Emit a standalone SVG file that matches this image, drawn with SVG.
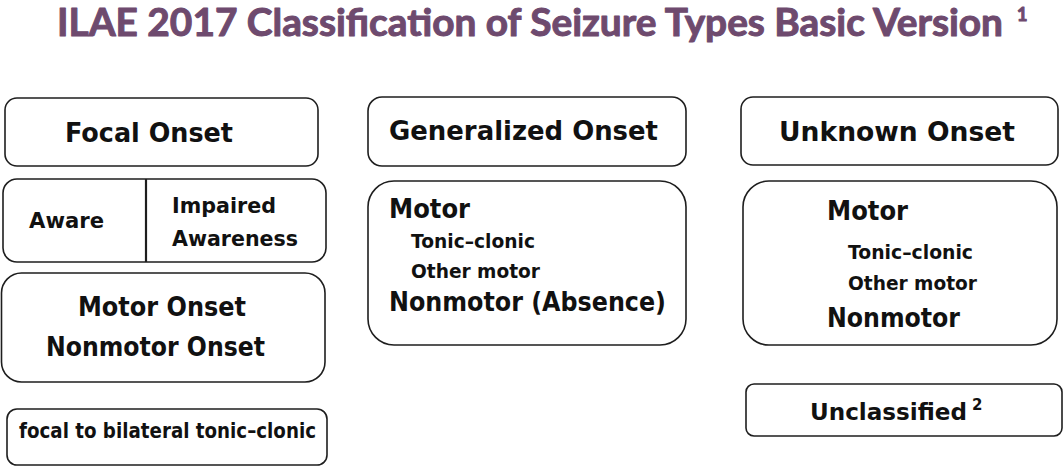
<svg xmlns="http://www.w3.org/2000/svg" width="1064" height="467" viewBox="0 0 1064 467">
<style>
.box{fill:#ffffff;stroke:#1e1e1e;stroke-width:1.6}
.t{font-family:"DejaVu Sans","Liberation Sans",sans-serif;font-weight:bold;fill:#111111}
.h{font-size:27px}
.m{font-size:26px}
.s{font-size:20px}
.a{font-size:22px}
.title{font-family:Lato,"Liberation Sans",sans-serif;font-weight:bold;fill:#6e4a6e;stroke:#6e4a6e;stroke-width:1;stroke-linejoin:round}
</style>
<rect width="1064" height="467" fill="#ffffff"/>
<g id="title">
<text class="title" x="57" y="36" font-size="38" textLength="946" lengthAdjust="spacingAndGlyphs">ILAE 2017 Classification of Seizure Types Basic Version</text>
<text class="title" x="1017" y="21" font-size="18">1</text>
</g>
<g id="focal-onset">
<rect class="box" x="5" y="98" width="313" height="68" rx="12"/>
<text class="t h" x="65" y="142" textLength="168" lengthAdjust="spacingAndGlyphs">Focal Onset</text>
</g>
<g id="awareness">
<rect class="box" x="3" y="179" width="323" height="83" rx="14"/>
<line x1="146" y1="179" x2="146" y2="262" stroke="#1e1e1e" stroke-width="2.2"/>
<text class="t a" x="29" y="228" textLength="75" lengthAdjust="spacingAndGlyphs">Aware</text>
<text class="t a" x="172" y="213" textLength="104" lengthAdjust="spacingAndGlyphs">Impaired</text>
<text class="t a" x="172" y="246" textLength="126" lengthAdjust="spacingAndGlyphs">Awareness</text>
</g>
<g id="focal-motor">
<rect class="box" x="1.5" y="273" width="323.5" height="109" rx="20"/>
<text class="t m" x="78" y="316" textLength="168" lengthAdjust="spacingAndGlyphs">Motor Onset</text>
<text class="t m" x="46" y="356" textLength="219" lengthAdjust="spacingAndGlyphs">Nonmotor Onset</text>
</g>
<g id="focal-bilateral">
<rect class="box" x="7" y="409" width="320" height="56" rx="10"/>
<text class="t" x="19" y="438" font-size="21" textLength="297" lengthAdjust="spacingAndGlyphs">focal to bilateral tonic–clonic</text>
</g>
<g id="generalized-onset">
<rect class="box" x="368" y="97" width="318" height="69" rx="14"/>
<text class="t h" x="389" y="140" textLength="269" lengthAdjust="spacingAndGlyphs">Generalized Onset</text>
</g>
<g id="generalized-types">
<rect class="box" x="368" y="181" width="318" height="164" rx="26"/>
<text class="t m" x="389" y="218" textLength="81" lengthAdjust="spacingAndGlyphs">Motor</text>
<text class="t s" x="411" y="248" textLength="124" lengthAdjust="spacingAndGlyphs">Tonic–clonic</text>
<text class="t s" x="411" y="278" textLength="129" lengthAdjust="spacingAndGlyphs">Other motor</text>
<text class="t m" x="389" y="311" textLength="277" lengthAdjust="spacingAndGlyphs">Nonmotor  (Absence)</text>
</g>
<g id="unknown-onset">
<rect class="box" x="741" y="97" width="317" height="68" rx="12"/>
<text class="t h" x="779" y="141" textLength="236" lengthAdjust="spacingAndGlyphs">Unknown Onset</text>
</g>
<g id="unknown-types">
<rect class="box" x="743" y="181" width="314" height="164" rx="26"/>
<text class="t m" x="827" y="220" textLength="81" lengthAdjust="spacingAndGlyphs">Motor</text>
<text class="t s" x="848" y="259" textLength="125" lengthAdjust="spacingAndGlyphs">Tonic–clonic</text>
<text class="t s" x="848" y="290" textLength="129" lengthAdjust="spacingAndGlyphs">Other motor</text>
<text class="t m" x="827" y="327" textLength="133" lengthAdjust="spacingAndGlyphs">Nonmotor</text>
</g>
<g id="unclassified">
<rect class="box" x="746" y="384" width="316" height="52" rx="8"/>
<text class="t" x="810" y="420" font-size="23" textLength="157" lengthAdjust="spacingAndGlyphs">Unclassified</text>
<text class="t" x="972" y="410" font-size="15">2</text>
</g>
<g id="connectors"/>
</svg>
